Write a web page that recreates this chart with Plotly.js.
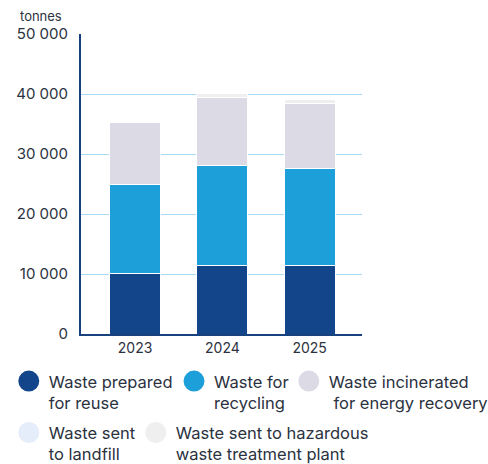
<!DOCTYPE html>
<html>
<head>
<meta charset="utf-8">
<script src="https://cdn.plot.ly/plotly-3.0.1.min.js"></script>
<style>html,body{margin:0;padding:0;background:#fff;}#chart{width:488px;height:464px;}</style>
</head>
<body>
<div id="chart"></div>
<script>
const years = ['2023', '2024', '2025'];
const reuse = [10150, 11350, 11350];
const recycling = [14700, 16800, 16300];
const incinerated = [10350, 11250, 10850];
const landfill = [0, 100, 0];
const hazardous = [300, 650, 650];
const seriesNames = [
  'Waste prepared<br>for reuse',
  'Waste for<br>recycling',
  'Waste incinerated<br> for energy recovery',
  'Waste sent<br>to landfill',
  'Waste sent to hazardous<br>waste treatment plant'
];
const seriesColors = ['#13458a', '#1d9fda', '#dbdae5', '#e4edf9', '#efefef'];
const yTicks = [0, 10000, 20000, 30000, 40000, 50000];
const unitLabel = 'tonnes';

const seriesValues = [reuse, recycling, incinerated, landfill, hazardous];
const legendIds = ['legend', 'legend2', 'legend3', 'legend4', 'legend5'];
const traces = [];
seriesValues.forEach((vals, i) => {
  traces.push({
    type: 'bar', x: years, y: vals, name: seriesNames[i],
    marker: {color: seriesColors[i], line: {color: '#ffffff', width: 1}},
    width: 0.585, showlegend: false, hoverinfo: 'skip'
  });
});
seriesValues.forEach((vals, i) => {
  traces.push({
    type: 'scatter', mode: 'markers', x: [null], y: [null], name: seriesNames[i],
    legend: legendIds[i],
    marker: {color: seriesColors[i], size: 16, symbol: 'circle', line: {color: seriesColors[i], width: 5}},
    showlegend: true
  });
});

const textColor = '#2b3240';
// legend placement (paper fractions)
const legendPos = [[0.018, -0.0995], [0.3566, -0.0995], [0.5918, -0.0995], [0.018, -0.271], [0.2783, -0.271]];

const layout = {
  width: 488, height: 464,
  margin: {l: 0, r: 0, t: 34, b: 130, autoexpand: false},
  paper_bgcolor: '#ffffff', plot_bgcolor: '#ffffff',
  font: {family: 'Inter, "Noto Sans", sans-serif', color: textColor, size: 15},
  separators: '. ',
  barmode: 'stack',
  showlegend: true,
  xaxis: {
    domain: [81 / 488, 362 / 488],
    type: 'category', range: [-0.62, 2.6],
    showline: true, linecolor: '#17427e', linewidth: 2,
    showgrid: false, zeroline: false, ticks: '',
    tickfont: {size: 14, color: textColor}
  },
  yaxis: {
    range: [0, 50000], tickvals: yTicks, tickformat: ',',
    showline: true, linecolor: '#17427e', linewidth: 2,
    showgrid: true, gridcolor: '#a9dcf4', gridwidth: 1,
    zeroline: false, ticks: '', ticklabelstandoff: 8,
    tickfont: {size: 15, color: textColor}
  },
  annotations: [{
    text: unitLabel, xref: 'paper', yref: 'paper', x: 17.5 / 488, y: 1.06,
    xanchor: 'left', yanchor: 'middle', showarrow: false,
    font: {size: 13, color: textColor}
  }]
};
legendIds.forEach((id, i) => {
  layout[id] = {
    orientation: 'h', x: legendPos[i][0], xanchor: 'left', y: legendPos[i][1], yanchor: 'top',
    valign: 'top', font: {size: 16.5, color: textColor},
    bgcolor: 'rgba(0,0,0,0)', itemclick: false, itemdoubleclick: false
  };
});
Plotly.newPlot('chart', traces, layout, {displayModeBar: false, staticPlot: true});
</script>
</body>
</html>
